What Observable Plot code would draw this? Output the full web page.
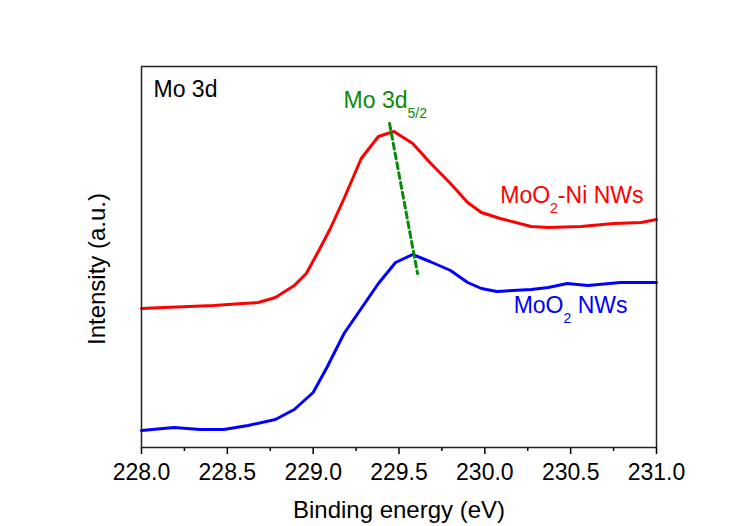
<!DOCTYPE html>
<html><head><meta charset="utf-8">
<script src="https://cdn.jsdelivr.net/npm/d3@7"></script>
<script src="https://cdn.jsdelivr.net/npm/@observablehq/plot@0.6"></script>
<style>html,body{margin:0;background:#fff}svg{display:block}</style>
</head><body><div id="chart"></div>
<script>
// MoO2-Ni NWs (red)
const energyNi = [228.00, 228.13, 228.42, 228.59, 228.68, 228.78, 228.89, 228.96, 229.03, 229.10, 229.18, 229.28, 229.38, 229.47, 229.58, 229.68, 229.80, 229.90, 229.98, 230.09, 230.27, 230.37, 230.56, 230.75, 230.91, 231.00];
const intensityNi = [139, 140, 142, 144, 145, 150, 162, 174, 196, 219, 249, 289, 311, 316, 304, 285, 264, 245, 235, 229, 221, 220, 221, 224, 225, 228];
// MoO2 NWs (blue)
const energyMo = [228.00, 228.19, 228.34, 228.48, 228.62, 228.78, 228.89, 229.00, 229.08, 229.18, 229.28, 229.38, 229.48, 229.58, 229.68, 229.80, 229.90, 229.98, 230.07, 230.27, 230.37, 230.48, 230.60, 230.79, 231.00];
const intensityMo = [17, 20, 18, 18, 22, 28, 38, 55, 80, 114, 139, 164, 185, 193, 186, 177, 165, 159, 156, 158, 160, 164, 162, 165, 165];
// Peak-shift guide (Mo 3d5/2)
const guideEnergy = [229.445, 229.608];
const guideIntensity = [324, 174];
// Annotations
const labelText = ["Mo 3d", "Mo 3d_{5/2}", "MoO_{2}-Ni NWs", "MoO_{2} NWs"];
const labelEnergy = [228.07, 229.177, 230.924, 230.831];
const labelIntensity = [351, 340, 245, 135];
const labelColor = ["#000000", "#0a8a0a", "#ff0000", "#0000ff"];
const labelAnchor = ["start", "start", "end", "end"];
// Axis ticks and titles
const majorTicks = [228.0, 228.5, 229.0, 229.5, 230.0, 230.5, 231.0];
const minorTicks = [228.25, 228.75, 229.25, 229.75, 230.25, 230.75];
const xTitle = "Binding energy (eV)";
const yTitle = "Intensity (a.u.)";

const ni = energyNi.map((x, i) => ({x, y: intensityNi[i]}));
const mo = energyMo.map((x, i) => ({x, y: intensityMo[i]}));
const guide = guideEnergy.map((x, i) => ({x, y: guideIntensity[i]}));
const labels = labelText.map((t, i) => ({t, x: labelEnergy[i], y: labelIntensity[i], c: labelColor[i], a: labelAnchor[i]}));

const font = "'Liberation Sans', Arial, Helvetica, sans-serif";
const svg = Plot.plot({
  width: 750, height: 526,
  marginLeft: 141, marginRight: 94, marginTop: 66, marginBottom: 79,
  style: {fontFamily: font, fontSize: "23px", color: "#000", background: "#fff"},
  x: {domain: [228, 231]},
  y: {domain: [0, 381], axis: null},
  marks: [
    Plot.axisX({ticks: minorTicks, tickSize: 4, tickFormat: () => "", label: null, strokeWidth: 1.5}),
    Plot.axisX({ticks: majorTicks, tickSize: 7, tickPadding: 9, tickFormat: d3.format(".1f"), fontSize: 23, label: null, strokeWidth: 1.5}),
    Plot.text([xTitle], {frameAnchor: "bottom", text: d => d, dy: 70, lineAnchor: "bottom", fontSize: 24, fill: "#000"}),
    Plot.text([yTitle], {frameAnchor: "left", text: d => d, rotate: -90, dx: -44, dy: 12, textAnchor: "middle", lineAnchor: "middle", fontSize: 24, fill: "#000"}),
    Plot.line(ni, {x: "x", y: "y", stroke: "#ff0000", strokeWidth: 3}),
    Plot.line(mo, {x: "x", y: "y", stroke: "#0000ff", strokeWidth: 3}),
    Plot.line(guide, {x: "x", y: "y", stroke: "#0a8a0a", strokeWidth: 3, strokeDasharray: "6,4"}),
    Plot.text(labels.filter(d => d.a === "start"), {x: "x", y: "y", text: "t", fill: "c", textAnchor: "start", lineAnchor: "bottom", fontSize: 23}),
    Plot.text(labels.filter(d => d.a === "end"), {x: "x", y: "y", text: "t", fill: "c", textAnchor: "end", lineAnchor: "bottom", fontSize: 23}),
    Plot.frame({stroke: "#222", strokeWidth: 1.5})
  ]
});

// Turn "_{...}" markers into real subscript tspans
const NS = "http://www.w3.org/2000/svg";
svg.querySelectorAll("text").forEach(t => {
  const s = t.textContent;
  if (!s.includes("_{")) return;
  const parts = s.split(/(_\{[^}]*\})/).filter(p => p);
  while (t.firstChild) t.removeChild(t.firstChild);
  let down = false;
  parts.forEach(p => {
    const ts = document.createElementNS(NS, "tspan");
    if (p.startsWith("_{")) {
      ts.textContent = p.slice(2, -1);
      ts.setAttribute("font-size", "14");
      ts.setAttribute("dy", "10");
      down = true;
    } else {
      ts.textContent = p;
      if (down) { ts.setAttribute("dy", "-10"); down = false; }
    }
    t.appendChild(ts);
  });
});
document.getElementById("chart").appendChild(svg);
</script>
</body></html>
